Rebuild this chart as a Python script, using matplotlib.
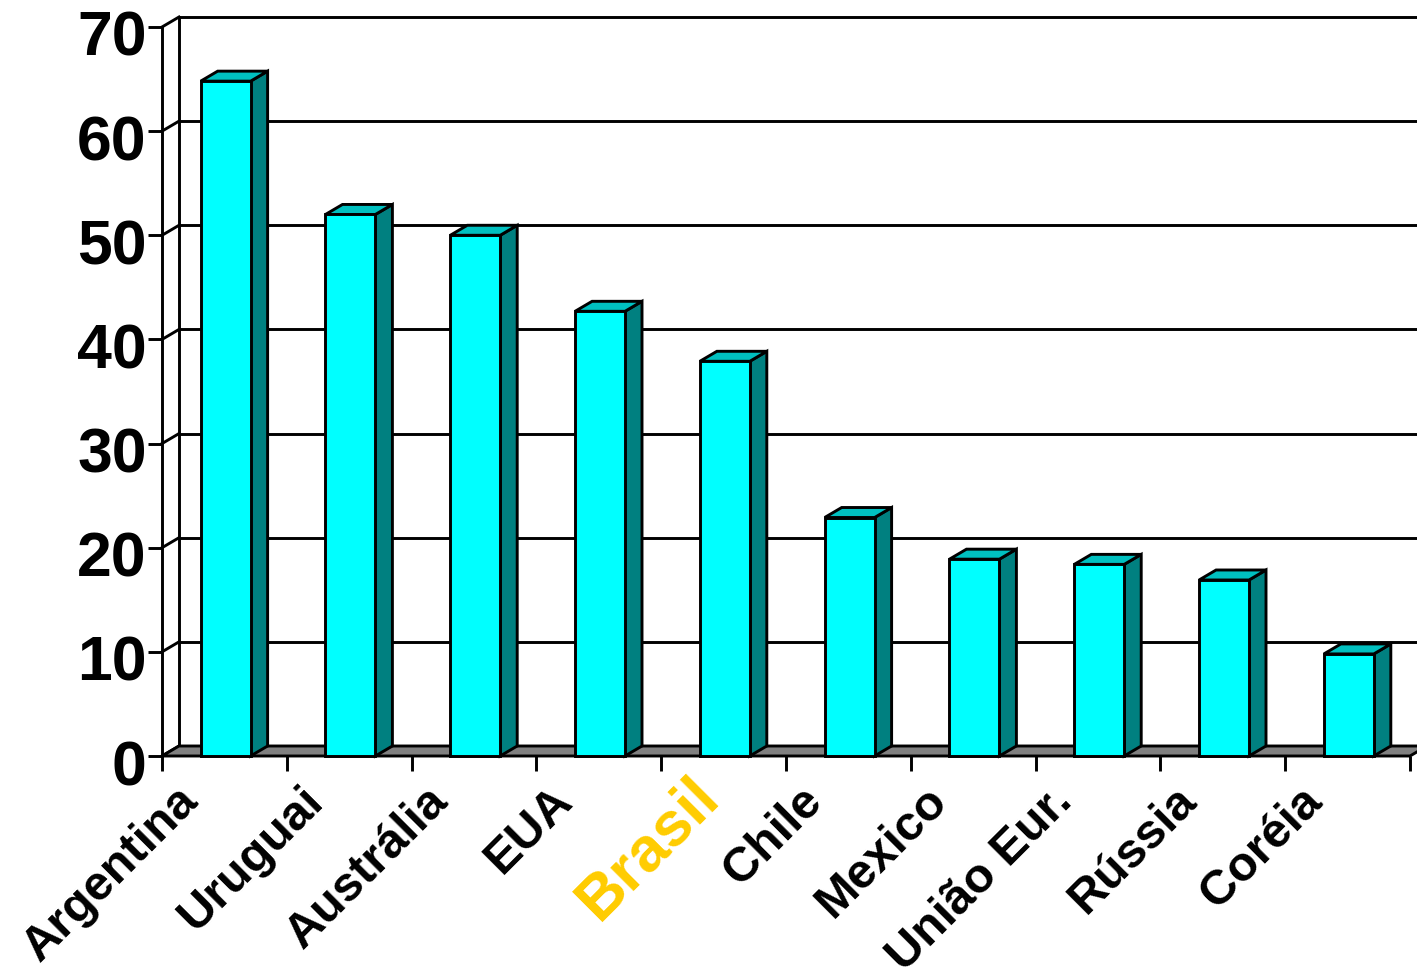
import matplotlib.pyplot as plt
from matplotlib.patches import Polygon
from matplotlib.transforms import offset_copy, ScaledTranslation

plt.rcParams['font.family'] = ['Liberation Sans', 'DejaVu Sans']
plt.rcParams['font.weight'] = 'bold'

# data
countries = ['Argentina', 'Uruguai', 'Austrália', 'EUA', 'Brasil', 'Chile',
             'Mexico', 'União Eur.', 'Rússia', 'Coréia']
values = [64.8, 52, 50, 42.7, 37.9, 22.9, 18.9, 18.4, 16.9, 9.8]
yticks = [0, 10, 20, 30, 40, 50, 60, 70]

FRONT = '#00FFFF'
SIDE = '#008080'
TOP = '#00C0C0'
FLOOR = '#808080'
LW = 2.1

fig = plt.figure(figsize=(14.17, 9.72), dpi=100)
ax = fig.add_axes([162 / 1417, 216 / 972, 1248 / 1417, 729 / 972])
ax.set_xlim(0, 10)
ax.set_ylim(0, 70)

# depth of the fake 3d box, in data units
dx = 17 / 124.8
dy = 10 / 10.414

for s in ['top', 'right', 'bottom']:
    ax.spines[s].set_visible(False)
ax.spines['left'].set_linewidth(LW)

# back wall with gridlines and the left wall connectors
for t in yticks:
    ax.plot([dx, 10.3], [t + dy, t + dy], color='black', lw=LW,
            zorder=1, clip_on=False, solid_capstyle='butt')
    ax.plot([0, dx], [t, t + dy], color='black', lw=LW, zorder=1,
            clip_on=False)
ax.plot([dx, dx], [dy, 70 + dy], color='black', lw=LW, zorder=1,
        clip_on=False)

# floor
floor = Polygon([(0, 0), (10, 0), (10 + dx, dy), (dx, dy)], closed=True,
                facecolor=FLOOR, edgecolor='black', lw=LW, zorder=2,
                clip_on=False)
ax.add_patch(floor)

# bars: front faces through ax.bar, side and top faces from the same values
x0 = [i + 0.31 for i in range(len(values))]
bw = 0.40
ax.bar(x0, values, width=bw, align='edge', color=FRONT, edgecolor='black',
       linewidth=LW, zorder=4, clip_on=False)
for xl, v in zip(x0, values):
    xr = xl + bw
    side = Polygon([(xr, 0), (xr + dx, dy), (xr + dx, v + dy), (xr, v)],
                   closed=True, facecolor=SIDE, edgecolor='black', lw=LW,
                   zorder=3, clip_on=False)
    top = Polygon([(xl, v), (xr, v), (xr + dx, v + dy), (xl + dx, v + dy)],
                  closed=True, facecolor=TOP, edgecolor='black', lw=LW,
                  zorder=3, clip_on=False)
    ax.add_patch(side)
    ax.add_patch(top)

# axes ticks
ax.set_yticks(yticks)
ax.set_yticklabels([str(t) for t in yticks], fontsize=45, fontweight='bold')
ax.tick_params(axis='y', length=10, width=LW, pad=1, direction='out')
shift = ScaledTranslation(0, -6 / 100, fig.dpi_scale_trans)
for lab in ax.get_yticklabels():
    lab.set_transform(lab.get_transform() + shift)
ax.set_xticks(range(11))
ax.set_xticklabels([])
ax.tick_params(axis='x', length=11, width=LW, direction='out')

# rotated category labels
base = offset_copy(ax.get_xaxis_transform(), fig=fig, x=-17, y=-22,
                   units='dots')
for i, name in enumerate(countries):
    if name == 'Brasil':
        tr = offset_copy(ax.get_xaxis_transform(), fig=fig, x=7, y=-10,
                         units='dots')
        ax.text(i + 0.5, 0, name, transform=tr, rotation=45, ha='right',
                va='top', fontsize=45, fontweight='bold', color='#FFCC00')
    else:
        ax.text(i + 0.5, 0, name, transform=base, rotation=45, ha='right',
                va='top', fontsize=35, fontweight='bold', color='black')

fig.savefig('out.png', dpi=100)
